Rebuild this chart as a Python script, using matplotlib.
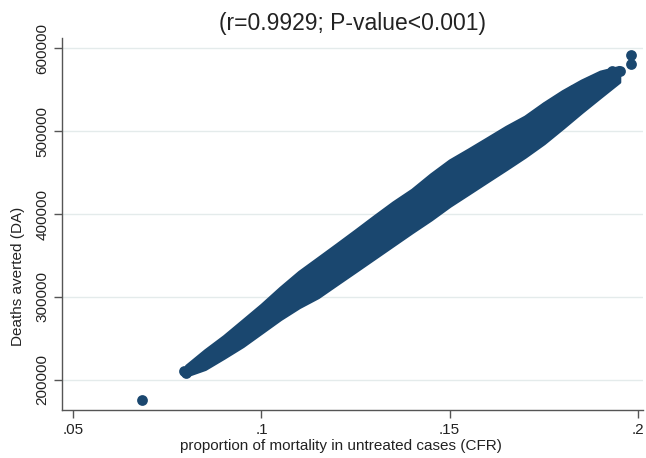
import numpy as np
import matplotlib
matplotlib.use("Agg")
import matplotlib.pyplot as plt

plt.rcParams['font.family'] = ['Liberation Sans', 'DejaVu Sans']

# CFR values where the edges of the dense point cloud were read
cfr = [0.080, 0.085, 0.090, 0.095, 0.100, 0.105, 0.110, 0.115, 0.120, 0.125,
       0.130, 0.135, 0.140, 0.145, 0.150, 0.155, 0.160, 0.165, 0.170, 0.175,
       0.180, 0.185, 0.190, 0.195]
# upper and lower edge of the cloud (deaths averted)
da_upper = [217000, 235600, 252600, 271500, 290500, 311000, 330200, 346700,
            363300, 380100, 397200, 413900, 429100, 447600, 464400, 477600,
            491200, 504900, 517200, 533300, 547900, 560600, 571400, 577000]
da_lower = [205500, 213500, 227000, 241000, 257300, 273600, 288000, 300000,
            315700, 331300, 347000, 362700, 378400, 393600, 410100, 424800,
            439600, 454300, 469300, 485500, 504000, 523000, 541300, 559400]

# single points sticking out of the cloud
pts_cfr = [0.0682, 0.0794, 0.0800, 0.1983, 0.1982, 0.1952, 0.1930, 0.1880,
           0.1828, 0.1757]
pts_da = [175900, 211200, 208000, 591100, 580700, 571800, 572500, 561000,
          549500, 529000]

navy = '#1a476f'

fig = plt.figure(figsize=(6.46, 4.58), dpi=100)
ax = fig.add_axes([0.096, 0.1048, 0.899, 0.812])

ax.fill_between(cfr, da_lower, da_upper, color=navy, lw=2.5, edgecolor=navy, zorder=3)
ax.scatter(pts_cfr, pts_da, s=60, color=navy, lw=0, zorder=4)

ax.set_xlim(0.047, 0.2013)
ax.set_ylim(163800, 612000)
ax.set_xticks([0.05, 0.1, 0.15, 0.2])
ax.set_xticklabels(['.05', '.1', '.15', '.2'])
ax.set_yticks([200000, 300000, 400000, 500000, 600000])
ax.set_yticklabels(['200000', '300000', '400000', '500000', '600000'],
                   rotation=90, va='center')

ax.grid(axis='y', color='#e4ebeb', lw=1.0, zorder=0)
ax.set_axisbelow(True)
for s in ['top', 'right']:
    ax.spines[s].set_visible(False)
for s in ['left', 'bottom']:
    ax.spines[s].set_color('#555555')
    ax.spines[s].set_linewidth(1.0)
ax.tick_params(length=6, width=1.0, color='#555555', labelsize=11,
               labelcolor='#222222', pad=3)

ax.set_xlabel('proportion of mortality in untreated cases (CFR)', fontsize=11,
              color='#222222', labelpad=2)
ax.xaxis.set_label_coords(0.481, -0.077)
ax.set_ylabel('Deaths averted (DA)', fontsize=11, color='#222222')
ax.yaxis.set_label_coords(-0.064, 0.36)
ax.set_title('(r=0.9929; P-value<0.001)', fontsize=16.5, color='#222222', pad=6)

fig.savefig('out.png', dpi=100)
